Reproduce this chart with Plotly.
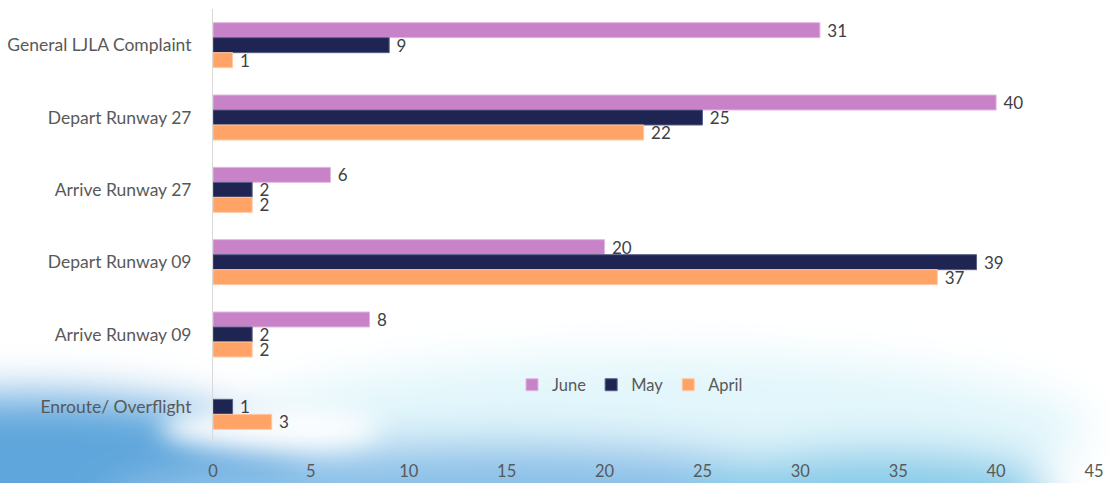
import base64
import plotly.graph_objects as go

categories = ["General LJLA Complaint", "Depart Runway 27", "Arrive Runway 27",
              "Depart Runway 09", "Arrive Runway 09", "Enroute/ Overflight"]
june = [31, 40, 6, 20, 8, None]
may = [9, 25, 2, 39, 2, 1]
april = [1, 22, 2, 37, 2, 3]
series_names = ["June", "May", "April"]
series_colors = ["#C882C8", "#1F2553", "#FFA366"]
outline_colors = ["#E2B6E2", "#5A5F88", "#FFC9A6"]
x_ticks = [0, 5, 10, 15, 20, 25, 30, 35, 40, 45]

W, H = 1110, 483
ML, MR, MT, MB = 213, 16, 9, 40
PW, PH = W - ML - MR, H - MT - MB

svg = f'''<svg xmlns="http://www.w3.org/2000/svg" width="{W}" height="{H}" viewBox="0 0 {W} {H}">
<defs>
<filter id="b" x="-50%" y="-50%" width="200%" height="200%"><feGaussianBlur stdDeviation="22"/></filter>
<filter id="s" x="-50%" y="-50%" width="200%" height="200%"><feGaussianBlur stdDeviation="12"/></filter>
</defs>
<rect width="{W}" height="{H}" fill="white"/>
<g filter="url(#b)">
<ellipse cx="660" cy="430" rx="430" ry="75" fill="#e2f6fb"/>
<ellipse cx="30" cy="505" rx="330" ry="110" fill="#5ea6dc"/>
<ellipse cx="500" cy="515" rx="400" ry="72" fill="#8ac0e8"/>
<ellipse cx="880" cy="500" rx="200" ry="50" fill="#86cbe8"/>
<ellipse cx="1130" cy="483" rx="90" ry="45" fill="white"/>
</g>
<g filter="url(#s)">
<ellipse cx="270" cy="428" rx="110" ry="22" fill="white" opacity="0.95"/>
</g>
</svg>'''
src = "data:image/svg+xml;base64," + base64.b64encode(svg.encode()).decode()

fig = go.Figure()
for name, vals, col, oc in zip(series_names, [june, may, april], series_colors, outline_colors):
    fig.add_trace(go.Bar(
        name=name, y=categories, x=vals, orientation="h",
        marker=dict(color=col, line=dict(color=oc, width=1)),
        text=[("" if v is None else " " + str(v)) for v in vals],
        textposition="outside", cliponaxis=False, constraintext="none",
        textfont=dict(size=17, color="#404040"),
    ))

fig.update_layout(
    width=W, height=H,
    margin=dict(l=ML, r=MR, t=MT, b=MB, autoexpand=False),
    barmode="group", bargap=0.378, bargroupgap=0,
    plot_bgcolor="rgba(0,0,0,0)", paper_bgcolor="white",
    font=dict(family="Lato, Open Sans, sans-serif", size=16.5, color="#595959"),
    showlegend=True,
    legend=dict(orientation="h", x=(630 - ML) / PW, y=(H - MB - 385) / PH,
                xanchor="center", yanchor="middle",
                font=dict(size=16.5, color="#595959"), bgcolor="rgba(0,0,0,0)",
                itemwidth=30, traceorder="normal"),
    images=[dict(source=src, xref="paper", yref="paper",
                 x=-ML / PW, y=1 + MT / PH, sizex=W / PW, sizey=H / PH,
                 xanchor="left", yanchor="top", sizing="stretch", layer="below")],
)
fig.update_xaxes(range=[0, 45], tickvals=x_ticks, showgrid=False, zeroline=False,
                 showline=False, ticks="", ticklabelstandoff=16, automargin=False,
                 tickfont=dict(size=16.5, color="#595959"))
fig.update_yaxes(autorange="reversed", showgrid=False, zeroline=False, showline=True,
                 linecolor="#D9D9D9", linewidth=1, ticks="", ticklabelstandoff=17,
                 automargin=False, tickfont=dict(size=17.5, color="#595959"))

fig.write_html("out.html", config={"displayModeBar": False},
               post_script="document.body.style.margin='0';")
